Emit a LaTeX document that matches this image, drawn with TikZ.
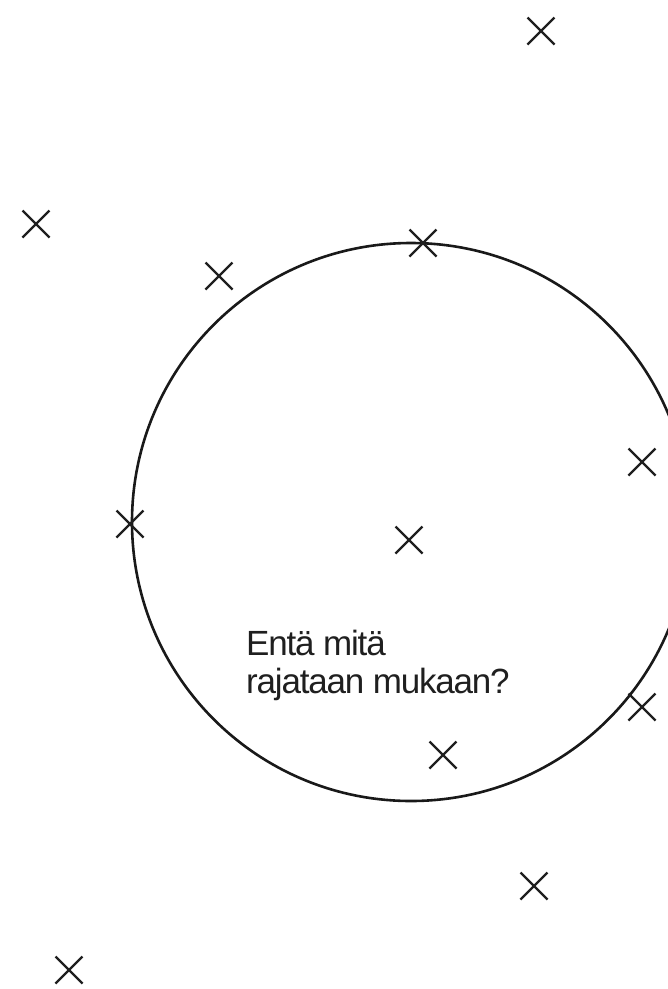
\documentclass[tikz,border=0pt]{standalone}
\usepackage{fontspec}
\setmainfont{Liberation Sans}
\newfontfamily\labelfont[LetterSpace=-3.4]{Liberation Sans}
\usetikzlibrary{shapes.misc}
\tikzset{
  xmark/.style={cross out, draw=black!88, line width=2.3pt, minimum width=27pt, minimum height=27pt, inner sep=0pt, outer sep=0pt},
  ring/.style={draw=black!90, line width=2.6pt},
  label text/.style={anchor=base west, align=left, inner sep=0pt, text=black!88, font=\labelfont\fontsize{35}{38}\selectfont}
}
\begin{document}
\begin{tikzpicture}[x=1pt,y=-1pt]
  \useasboundingbox (0,0) rectangle (668,989);
  \clip (0,0) rectangle (668,989);
  \node[ring, circle, minimum size=558pt, inner sep=0pt] (c) at (411,522) {};
  \node[xmark] (x1) at (541,31) {};
  \node[xmark] (x2) at (36,224) {};
  \node[xmark] (x3) at (219,276) {};
  \node[xmark] (x4) at (423,243) {};
  \node[xmark] (x5) at (642,462) {};
  \node[xmark] (x6) at (130,524) {};
  \node[xmark] (x7) at (409,540) {};
  \node[xmark] (x8) at (642,707) {};
  \node[xmark] (x9) at (443,755) {};
  \node[xmark] (x10) at (534,886) {};
  \node[xmark] (x11) at (69,970) {};
  \node[label text] (t) at (246,693) {Entä mitä\\rajataan mukaan?};
\end{tikzpicture}
\end{document}
